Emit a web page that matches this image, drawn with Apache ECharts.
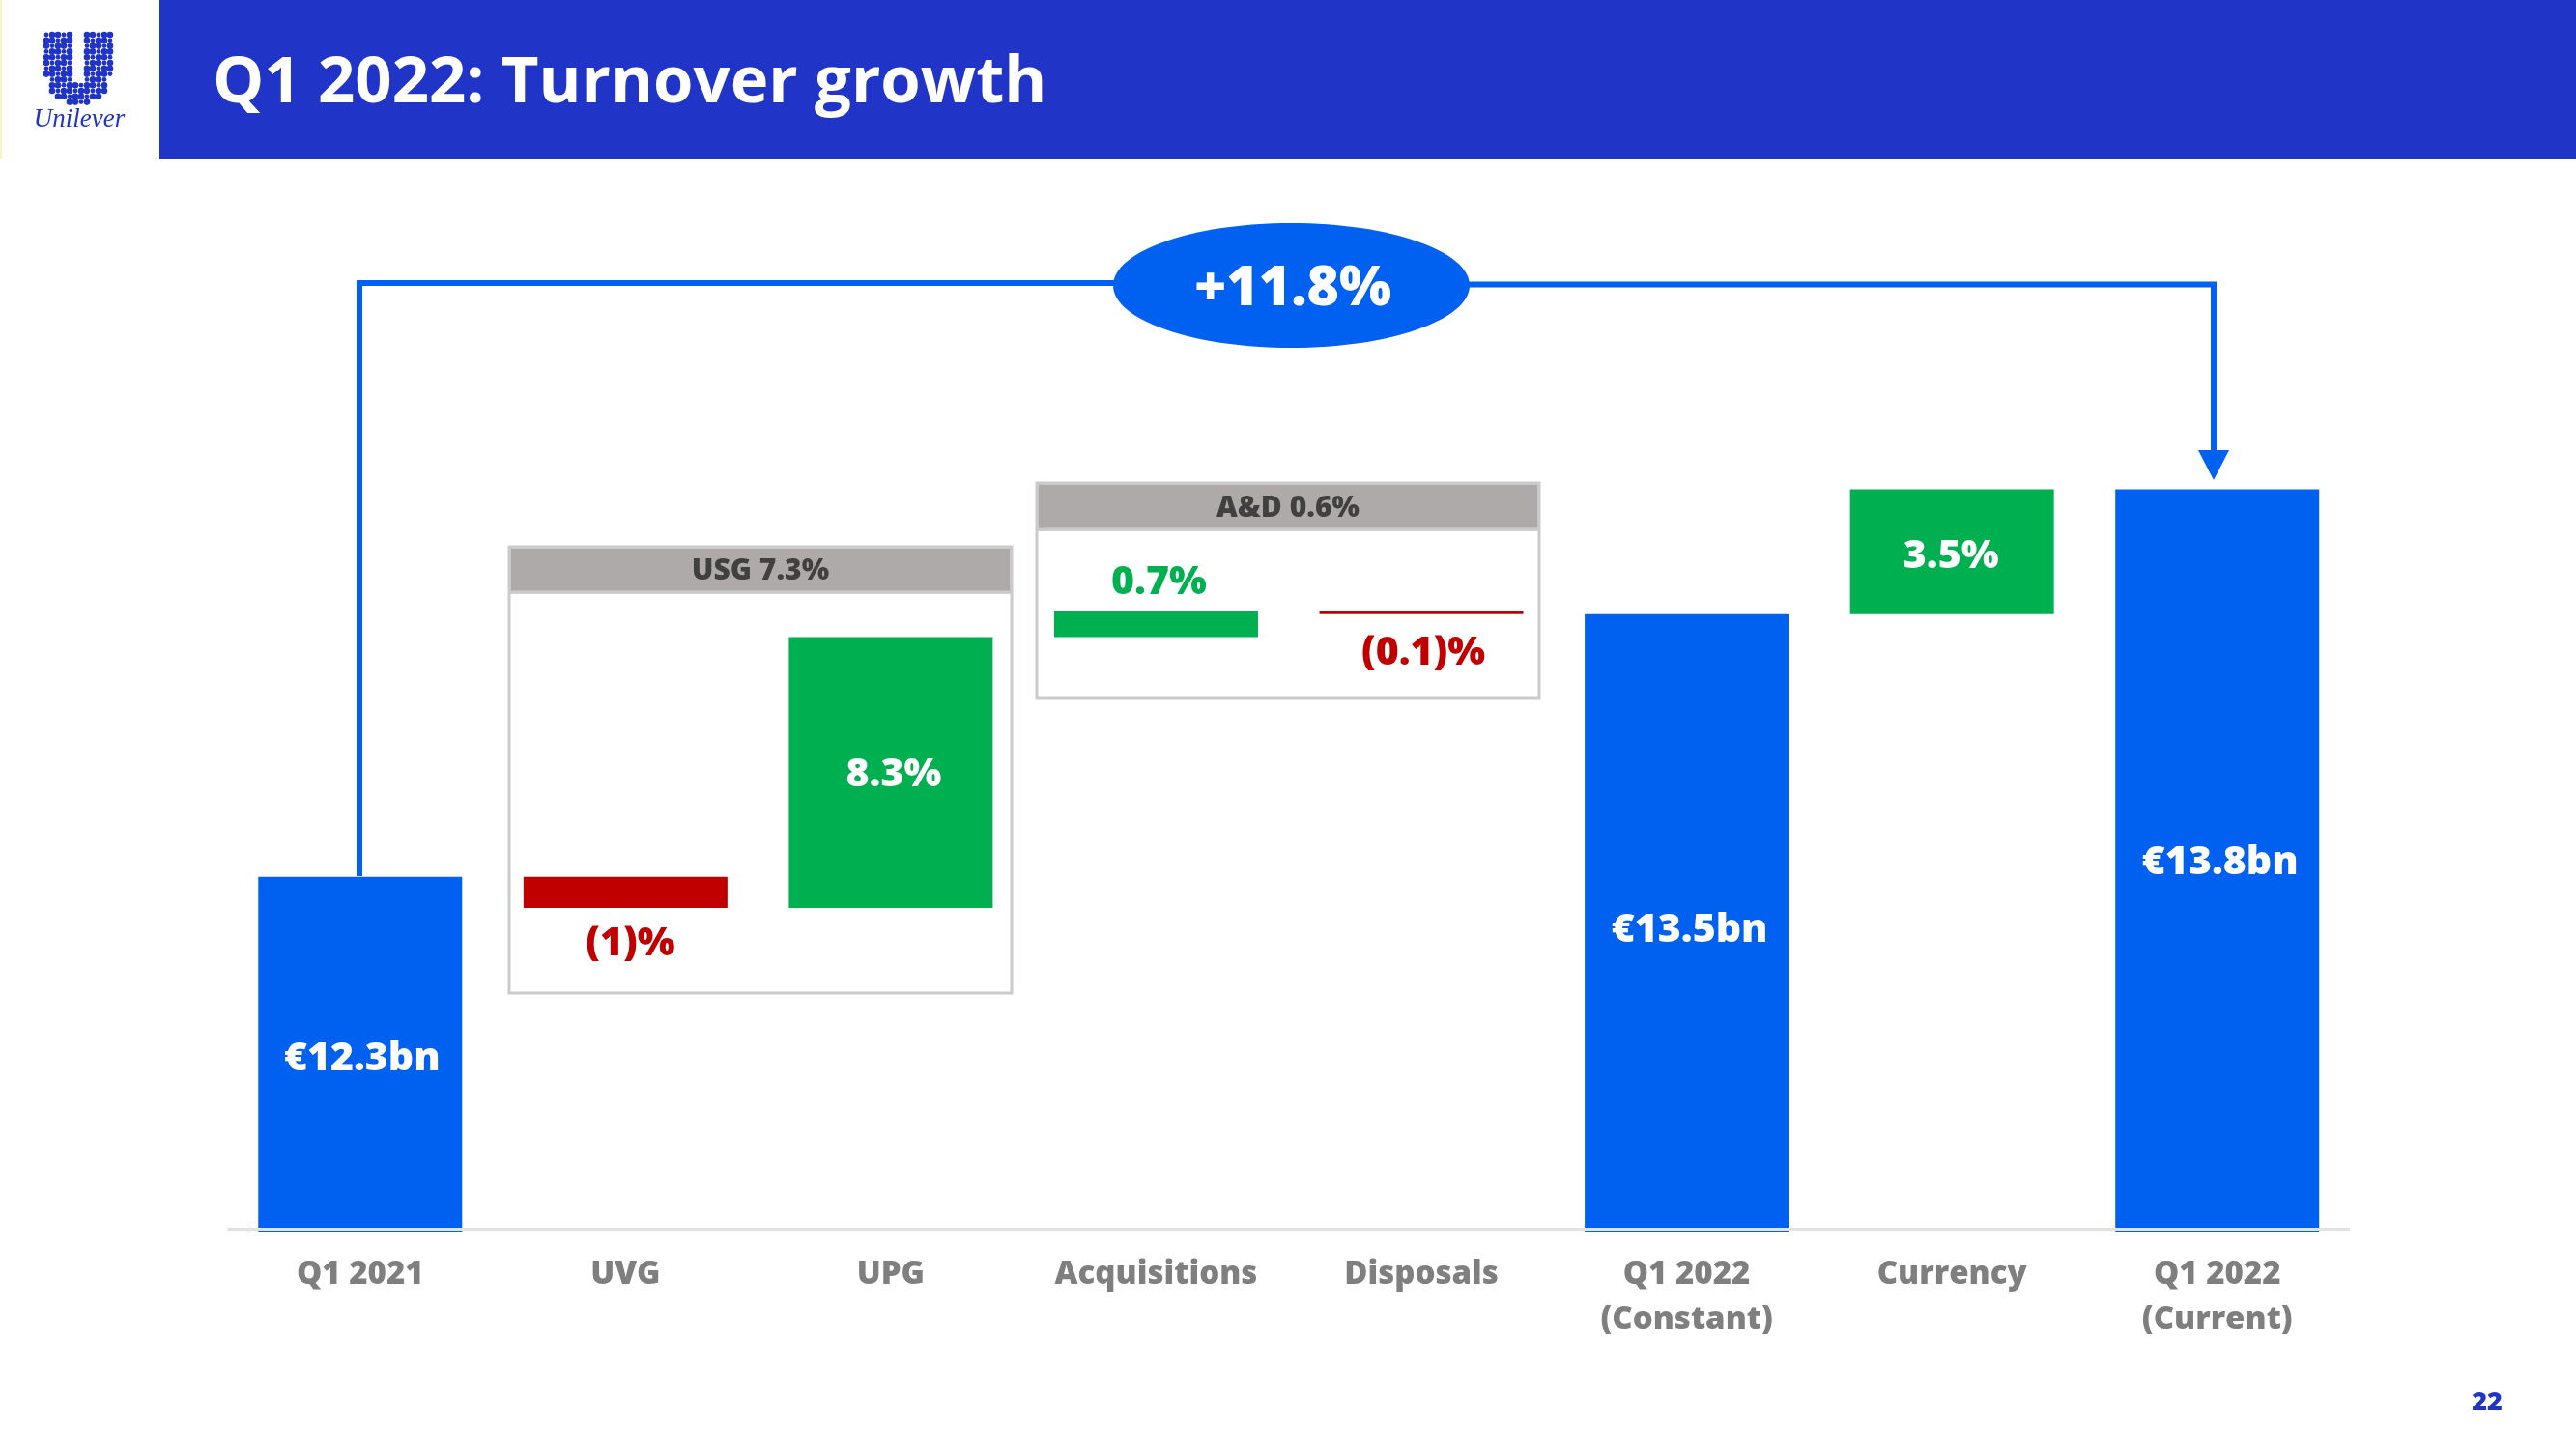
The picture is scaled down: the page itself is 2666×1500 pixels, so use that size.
<!DOCTYPE html>
<html>
<head>
<meta charset="utf-8">
<style>html,body{margin:0;padding:0;background:#fff}#c{width:2666px;height:1500px}</style>
<script src="https://cdn.jsdelivr.net/npm/echarts@6/dist/echarts.min.js"></script>
</head>
<body>
<div id="c"></div>
<script>
const categories = ['Q1 2021','UVG','UPG','Acquisitions','Disposals','Q1 2022\n(Constant)','Currency','Q1 2022\n(Current)'];
// Heights on an index where Q1 2021 = 100
const barLow  = [0, 99.05, 99.05, 107.3, 108.0, 0, 108.0, 0];
const barHigh = [100, 100, 107.3, 108.1, 108.1, 108.0, 111.8, 111.8];
const barLabels = ['€12.3bn','(1)%','8.3%','0.7%','(0.1)%','€13.5bn','3.5%','€13.8bn'];
const barKinds = ['total','down','up','up','down','total','up','total'];
const titleText = 'Q1 2022: Turnover growth';
const growthText = '+11.8%';
const groupLabels = ['USG 7.3%','A&D 0.6%'];
const pageNumber = '22';

const BLUE = '#0060F0', GREEN = '#00B050', RED = '#C00000', NAVY = '#2035C8';
const FONT = '"Open Sans","Noto Sans",sans-serif';
const kindColor = {total: BLUE, up: GREEN, down: RED};
const labelPlaces = ['inside','bottom','inside','top','bottom','inside','inside','inside'];
const labelShift = [[2,5],[5,3],[3,2],[3,1],[2,6],[3,8],[-1,5],[3,3]];

function groupBox(x0, y0, x1, y1, yh, text) {
  return [
    {type:'rect', z:0, shape:{x:x0,y:y0,width:x1-x0,height:y1-y0}, style:{fill:'#fff',stroke:'#CBCBCB',lineWidth:3}},
    {type:'rect', z:1, shape:{x:x0+1.5,y:y0+1.5,width:x1-x0-3,height:yh-y0}, style:{fill:'#AEAAA9',stroke:'#CBCBCB',lineWidth:0}},
    {type:'line', z:1, shape:{x1:x0,y1:yh,x2:x1,y2:yh}, style:{stroke:'#CBCBCB',lineWidth:3}},
    {type:'text', z:3, x:(x0+x1)/2, y:(y0+yh)/2+2, style:{text:text,fill:'#404040',font:'800 30px '+FONT,align:'center',verticalAlign:'middle'}}
  ];
}

// Logo mark: a dotted U shape
const logo = [];
for (let row = 0; row < 13; row++) {
  for (let col = 0; col < 12; col++) {
    const x = 48 + col * 6, y = 36 + row * 5.8;
    const dx = x - 81, dy = y - 74;
    const inArm = y < 74 && (x < 73 || x > 89);
    const r = Math.sqrt(dx * dx + dy * dy);
    const inBowl = y >= 74 && r < 34 && r > 9;
    if (inArm || inBowl) {
      logo.push({type:'circle', z:1, shape:{cx:x, cy:y, r:(row + col) % 3 === 0 ? 2.4 : 3.3}, style:{fill:NAVY}});
    }
  }
}

const graphics = [
  {type:'rect', z:0, shape:{x:0,y:0,width:2,height:165}, style:{fill:'#FBF3C4'}},
  {type:'rect', z:0, shape:{x:165,y:0,width:2501,height:165}, style:{fill:NAVY}},
  ...logo,
  {type:'text', z:1, x:82, y:124, style:{text:'Unilever',fill:NAVY,font:'italic 27px "Liberation Serif",serif',align:'center',verticalAlign:'middle'}},
  ...groupBox(527,566,1047,1028,613,groupLabels[0]),
  ...groupBox(1073,500,1593,723,548,groupLabels[1]),
  {type:'polyline', z:4, shape:{points:[[372,907],[372,293],[1160,293]]}, style:{stroke:BLUE,lineWidth:6,fill:null}},
  {type:'polyline', z:4, shape:{points:[[1510,294.5],[2291,294.5],[2291,470]]}, style:{stroke:BLUE,lineWidth:6,fill:null}},
  {type:'polygon', z:4, shape:{points:[[2275,466],[2307,466],[2291,497]]}, style:{fill:BLUE}},
  {type:'ellipse', z:5, shape:{cx:1336.5,cy:295.5,rx:184.5,ry:64.5}, style:{fill:BLUE}},
  {type:'text', z:6, x:1338, y:300, style:{text:growthText,fill:'#fff',font:'800 57px '+FONT,align:'center',verticalAlign:'middle'}},
  {type:'text', z:6, x:2574, y:1452, style:{text:pageNumber,fill:NAVY,font:'800 27px '+FONT,align:'center',verticalAlign:'middle'}}
];

const chart = echarts.init(document.getElementById('c'), null, {renderer:'canvas'});
chart.setOption({
  animation:false,
  backgroundColor:'#fff',
  title:{text:titleText,left:220,top:53,padding:0,textStyle:{color:'#fff',fontFamily:FONT,fontWeight:'bold',fontSize:67}},
  grid:{left:235.5,right:234,top:493,bottom:225,containLabel:false},
  xAxis:{type:'category',data:categories,axisLine:{show:false},axisTick:{show:false},
    axisLabel:{color:'#7F7F7F',fontFamily:FONT,fontWeight:800,fontSize:33,lineHeight:47,margin:21,interval:0}},
  yAxis:{type:'value',min:89.2,max:112.2,show:false,splitLine:{show:false}},
  graphic:{elements:graphics},
  series:[
    {type:'bar',stack:'w',barWidth:211,silent:true,itemStyle:{color:'rgba(0,0,0,0)'},data:barLow},
    {type:'bar',stack:'w',barWidth:211,silent:true,z:3,
      data:barHigh.map((h,i)=>({
        value:+(h-barLow[i]).toFixed(2),
        itemStyle:{color:kindColor[barKinds[i]]},
        label:{
          show:true,
          formatter:barLabels[i],
          position:labelPlaces[i],
          offset:labelShift[i],
          distance:labelPlaces[i]==='inside'?0:(labelPlaces[i]==='top'?10:14),
          fontFamily:FONT,fontWeight:800,fontSize:41,
          color:labelPlaces[i]==='inside'?'#fff':kindColor[barKinds[i]]
        }
      })),
      markLine:{silent:true,symbol:'none',z:5,label:{show:false},
        lineStyle:{color:'#E2E2E2',width:3,type:'solid'},
        data:[{yAxis:89.29}]}
    }
  ]
});
</script>
</body>
</html>
